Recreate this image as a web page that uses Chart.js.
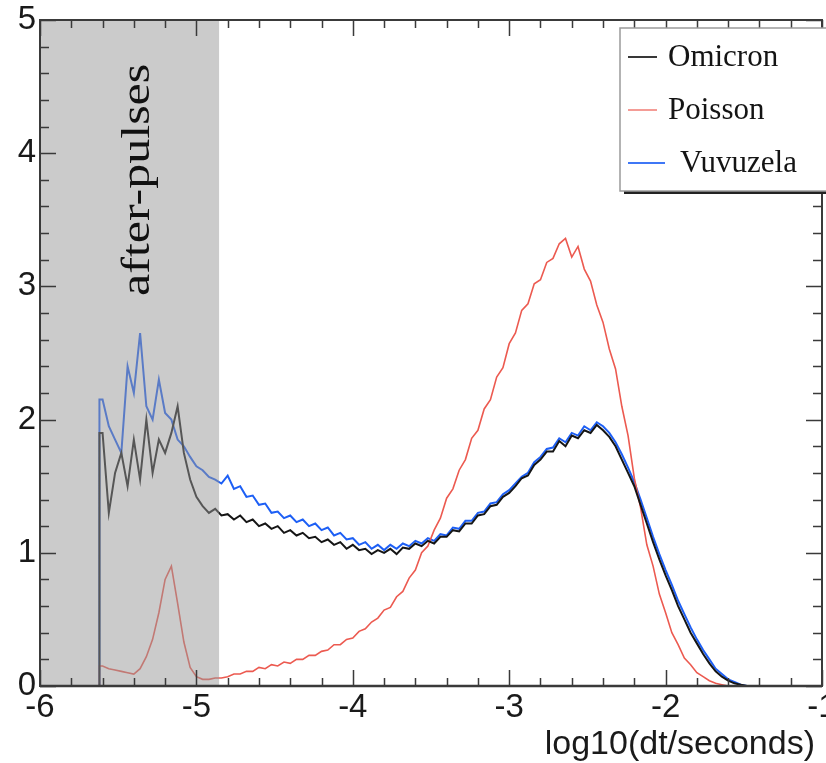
<!DOCTYPE html>
<html>
<head>
<meta charset="utf-8">
<script src="https://cdn.jsdelivr.net/npm/chart.js@4.4.0/dist/chart.umd.min.js"></script>
<style>
  html, body { margin: 0; padding: 0; background: #fff; }
  #wrap { width: 826px; height: 763px; position: relative; }
</style>
</head>
<body>
<div id="wrap"><canvas id="chart"></canvas></div>
<script>
// histogram bins in log10(dt/seconds), left edge of the first bin and bin width
const binStart = -5.62;
const binWidth = 0.04;

const omicron = [
  1.9, 1.3, 1.6, 1.75, 1.5, 1.85, 1.55, 2.0, 1.6, 1.85,
  1.75, 1.9, 2.1, 1.75, 1.55, 1.42, 1.35, 1.3, 1.33, 1.28,
  1.29, 1.25, 1.28, 1.23, 1.25, 1.2, 1.22, 1.18, 1.2, 1.15,
  1.17, 1.13, 1.15, 1.11, 1.12, 1.08, 1.1, 1.06, 1.08, 1.03,
  1.06, 1.02, 1.03, 0.99, 1.02, 1.0, 1.03, 0.99, 1.04, 1.03,
  1.07, 1.05, 1.09, 1.07, 1.12, 1.12, 1.17, 1.16, 1.22, 1.22,
  1.28, 1.29, 1.35, 1.36, 1.42, 1.45, 1.5, 1.56, 1.58, 1.66,
  1.7, 1.76, 1.76, 1.84, 1.8, 1.88, 1.86, 1.92, 1.9, 1.96,
  1.92, 1.87, 1.8, 1.7, 1.6, 1.5, 1.36, 1.22, 1.08, 0.95,
  0.83, 0.72, 0.6, 0.5, 0.4, 0.32, 0.24, 0.17, 0.11, 0.07,
  0.04, 0.02, 0.01, 0, 0
];

const poisson = [
  0.15, 0.13, 0.12, 0.11, 0.10, 0.09, 0.13, 0.22, 0.35, 0.55,
  0.8, 0.9, 0.62, 0.33, 0.14, 0.07, 0.05, 0.05, 0.06, 0.06,
  0.07, 0.09, 0.09, 0.11, 0.11, 0.14, 0.13, 0.16, 0.15, 0.18,
  0.17, 0.2, 0.2, 0.23, 0.23, 0.26, 0.27, 0.31, 0.31, 0.35,
  0.36, 0.41, 0.43, 0.48, 0.51, 0.57, 0.59, 0.67, 0.71, 0.81,
  0.87, 1.0, 1.05, 1.17, 1.26, 1.41, 1.48, 1.62, 1.7, 1.86,
  1.92, 2.08, 2.15, 2.32, 2.39, 2.57, 2.65, 2.82, 2.87, 3.02,
  3.05, 3.18, 3.21, 3.32, 3.36, 3.22, 3.3, 3.13, 3.04, 2.86,
  2.73, 2.53, 2.38, 2.1, 1.88, 1.56, 1.34, 1.06, 0.9, 0.69,
  0.55, 0.4, 0.31, 0.21, 0.16, 0.1, 0.07, 0.04, 0.02, 0.01,
  0, 0, 0, 0, 0
];

const vuvuzela = [
  2.15, 1.95, 1.85, 1.75, 2.4, 2.2, 2.65, 2.1, 2.0, 2.3,
  2.05, 2.0, 1.85, 1.8, 1.72, 1.65, 1.62, 1.57, 1.55, 1.52,
  1.58, 1.48, 1.5, 1.42, 1.43, 1.36, 1.37, 1.3, 1.31, 1.26,
  1.28, 1.23, 1.25, 1.2, 1.22, 1.17, 1.19, 1.13, 1.15, 1.1,
  1.11, 1.06, 1.08, 1.03, 1.06, 1.02, 1.06, 1.03, 1.07, 1.05,
  1.09, 1.07, 1.11, 1.09, 1.14, 1.13, 1.19, 1.18, 1.24, 1.24,
  1.3, 1.31, 1.37, 1.38, 1.44, 1.47, 1.52, 1.57, 1.6, 1.68,
  1.72, 1.78, 1.79, 1.86, 1.83, 1.9, 1.88, 1.95, 1.92, 1.98,
  1.95, 1.9, 1.83, 1.74, 1.64, 1.53, 1.4, 1.26, 1.12, 0.99,
  0.87, 0.76, 0.64, 0.54, 0.44, 0.35, 0.27, 0.2, 0.13, 0.09,
  0.05, 0.03, 0.01, 0, 0
];

const seriesNames = ['Omicron', 'Poisson', 'Vuvuzela'];
const seriesColors = ['#151515', '#ec5a50', '#1d5ff5'];
const afterPulsesEnd = -4.855;
const axisTitle = 'log10(dt/seconds)';

const sans = '"Liberation Sans", Arial, sans-serif';
const serif = '"Liberation Serif", "Times New Roman", serif';
const tickFont = { family: sans, size: 33 };

// rise from zero at the first edge, then one point per bin centre
const toPoints = (values) => {
  let pts = [{ x: binStart, y: 0 }, { x: binStart, y: values[0] }];
  values.forEach((v, i) => pts.push({ x: binStart + (i + 0.5) * binWidth, y: v }));
  return pts;
};

const makeDataset = (idx, values, width) => ({
  label: seriesNames[idx],
  data: toPoints(values),
  borderColor: seriesColors[idx],
  borderWidth: width,
  pointRadius: 0,
  tension: 0,
  fill: false
});

const framePlugin = {
  id: 'frame',
  afterDatasetsDraw(chart) {
    const { ctx, chartArea: a, scales: { x, y } } = chart;
    ctx.save();
    // shaded after-pulse band, laid over the curves
    const x0 = x.getPixelForValue(-6);
    const x1 = x.getPixelForValue(afterPulsesEnd);
    ctx.fillStyle = 'rgba(152,152,152,0.5)';
    ctx.fillRect(x0, a.top, x1 - x0, a.bottom - a.top);

    ctx.translate((x0 + x1) / 2 + 9, y.getPixelForValue(3.8));
    ctx.rotate(-Math.PI / 2);
    ctx.scale(1.25, 1);
    ctx.font = '40px ' + serif;
    ctx.fillStyle = '#111';
    ctx.textAlign = 'center';
    ctx.textBaseline = 'middle';
    ctx.fillText('after-pulses', 0, 0);
    ctx.restore();
  },
  afterDraw(chart) {
    const { ctx, chartArea: a, scales: { x, y } } = chart;
    ctx.save();
    ctx.strokeStyle = '#3a3a3a';
    ctx.lineWidth = 1.5;

    // inside ticks, ROOT style
    ctx.beginPath();
    for (let k = 0; k <= 25; k++) {
      const px = Math.round(x.getPixelForValue(-6 + k * 0.2)) + 0.5;
      const len = k % 5 === 0 ? 16 : 8;
      ctx.moveTo(px, a.bottom); ctx.lineTo(px, a.bottom - len);
      ctx.moveTo(px, a.top); ctx.lineTo(px, a.top + len);
    }
    for (let k = 0; k <= 25; k++) {
      const py = Math.round(y.getPixelForValue(k * 0.2)) + 0.5;
      const len = k % 5 === 0 ? 16 : 9;
      ctx.moveTo(a.left, py); ctx.lineTo(a.left + len, py);
      ctx.moveTo(a.right, py); ctx.lineTo(a.right - len, py);
    }
    ctx.stroke();

    ctx.lineWidth = 2;
    ctx.strokeRect(a.left, a.top, a.right - a.left, a.bottom - a.top);
    ctx.lineWidth = 2.5;
    ctx.beginPath();
    ctx.moveTo(a.left, a.bottom); ctx.lineTo(a.right, a.bottom);
    ctx.stroke();

    // axis title, right aligned under the tick labels
    ctx.font = '34px ' + sans;
    ctx.fillStyle = '#1a1a1a';
    ctx.textAlign = 'right';
    ctx.textBaseline = 'middle';
    ctx.fillText(axisTitle, a.right - 7, a.bottom + 59);

    // legend box
    const lx = a.right - 202, ly = a.top + 8, lw = 230, lh = 163;
    ctx.fillStyle = '#222';
    ctx.fillRect(lx + 4, ly + lh - 1, lw, 4);
    ctx.fillStyle = '#fff';
    ctx.fillRect(lx, ly, lw, lh);
    ctx.strokeStyle = '#9a9a9a';
    ctx.lineWidth = 1.5;
    ctx.strokeRect(lx, ly, lw, lh);

    ctx.font = '31px ' + serif;
    ctx.textAlign = 'left';
    const rows = [
      { lineEnd: 37, textX: 48 },
      { lineEnd: 37, textX: 48 },
      { lineEnd: 45, textX: 60 }
    ];
    rows.forEach((r, i) => {
      const ry = ly + 29 + i * 53;
      ctx.strokeStyle = seriesColors[i];
      ctx.globalAlpha = i === 1 ? 0.6 : 0.85;
      ctx.lineWidth = 2;
      ctx.beginPath();
      ctx.moveTo(lx + 8, ry); ctx.lineTo(lx + r.lineEnd, ry);
      ctx.stroke();
      ctx.globalAlpha = 1;
      ctx.fillStyle = '#141414';
      ctx.fillText(seriesNames[i], lx + r.textX, ry + 1);
    });
    ctx.restore();
  }
};

new Chart(document.getElementById('chart'), {
  type: 'line',
  data: {
    datasets: [
      makeDataset(0, omicron, 2),
      makeDataset(1, poisson, 1.6),
      makeDataset(2, vuvuzela, 2)
    ]
  },
  options: {
    responsive: true,
    maintainAspectRatio: false,
    animation: false,
    layout: { padding: { top: 20, right: 4, left: 0, bottom: 0 } },
    plugins: {
      legend: { display: false },
      tooltip: { enabled: false }
    },
    scales: {
      x: {
        type: 'linear',
        min: -6,
        max: -1,
        grid: { display: false, drawTicks: false },
        border: { display: false },
        ticks: { stepSize: 1, font: tickFont, color: '#1a1a1a', padding: 2, maxRotation: 0 },
        afterFit(scale) {
          scale.height = 77;
          scale.paddingLeft = 0;
          scale.paddingRight = 0;
        }
      },
      y: {
        min: 0,
        max: 5,
        grid: { display: false, drawTicks: false },
        border: { display: false },
        ticks: { stepSize: 1, font: tickFont, color: '#1a1a1a', padding: 4 },
        afterFit(scale) {
          scale.width = 40;
          scale.paddingTop = 0;
          scale.paddingBottom = 0;
        }
      }
    }
  },
  plugins: [framePlugin]
});
</script>
</body>
</html>
